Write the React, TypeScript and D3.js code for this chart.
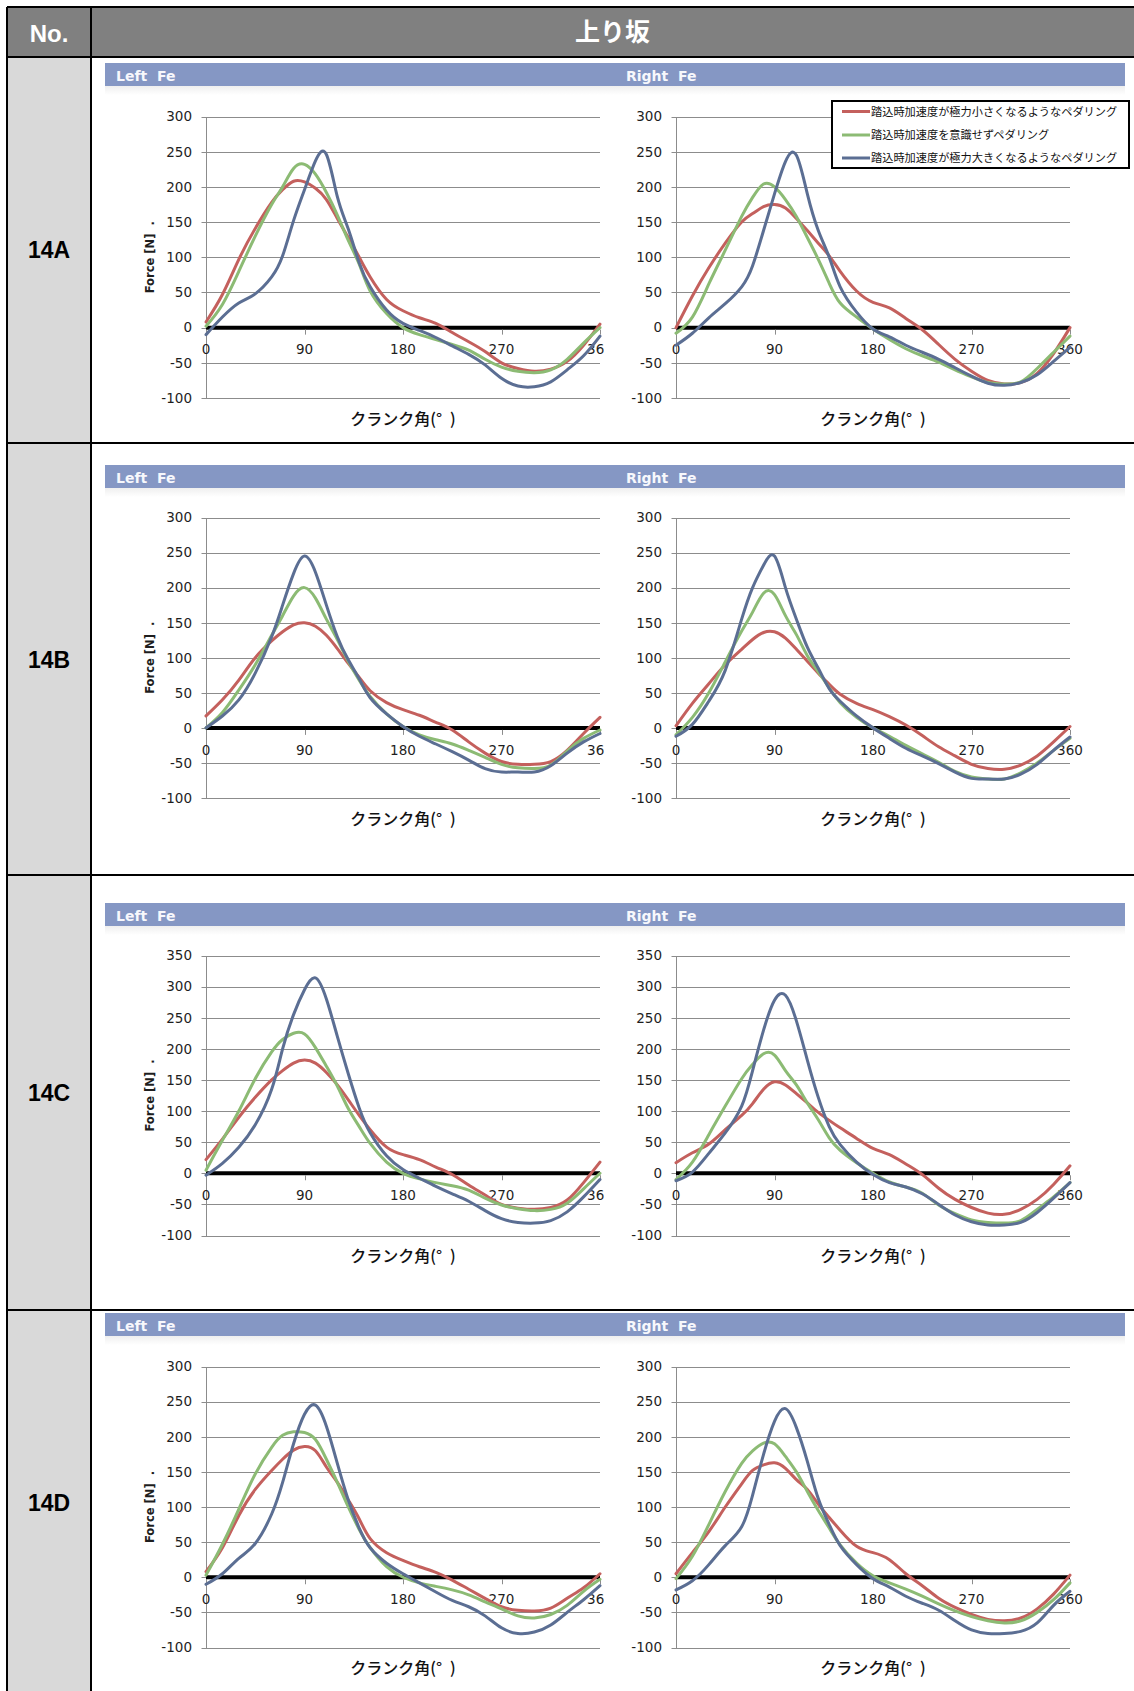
import React from "react";
import * as d3 from "d3";

// Crank angle sample points (degrees), shared by every series
const ANGLES = [0, 15, 30, 45, 60, 70, 80, 90, 100, 110, 120, 130, 140, 150, 165, 180, 195, 210, 225, 240, 255, 270, 285, 300, 315, 330, 345, 360];

const HEADER_NO = "No.";
const HEADER_TITLE = "上り坂";
const ROW_LABELS = ["14A", "14B", "14C", "14D"];
const SIDE_TITLES = ["Left\u00A0\u00A0Fe", "Right\u00A0\u00A0Fe"];
const LEGEND_LABELS = [
  "踏込時加速度が極力小さくなるようなペダリング",
  "踏込時加速度を意識せずペダリング",
  "踏込時加速度が極力大きくなるようなペダリング",
];
const SERIES_COLORS = ["#C4605D", "#8CBB74", "#5B6E93"];
const X_TICKS = [0, 90, 180, 270, 360];
const Y_TICKS_300 = [-100, -50, 0, 50, 100, 150, 200, 250, 300];
const Y_TICKS_350 = [-100, -50, 0, 50, 100, 150, 200, 250, 300, 350];
const Y_TITLE = "Force [N]\u00A0\u00A0.";
const X_TITLE = "クランク角(°\u2002)";

// 14A
const a14LeftLow = [8, 47, 97, 141, 178, 196, 208, 207, 198, 182, 155, 128, 100, 72, 40, 24, 14, 6, -7, -20, -34, -50, -58, -62, -59, -48, -25, 5];
const a14LeftNone = [2, 33, 80, 130, 175, 200, 226, 232, 218, 192, 160, 124, 90, 52, 20, 0, -10, -17, -24, -32, -45, -56, -62, -64, -60, -45, -22, 0];
const a14LeftHigh = [-10, 15, 35, 48, 72, 102, 152, 196, 237, 246, 186, 140, 92, 58, 25, 6, -4, -14, -26, -38, -53, -72, -83, -84, -77, -60, -40, -12];
const a14RightLow = [0, 45, 85, 120, 150, 162, 172, 175, 170, 155, 138, 120, 102, 80, 52, 36, 28, 13, -3, -24, -45, -62, -75, -80, -78, -65, -37, 0];
const a14RightNone = [-8, 15, 62, 110, 158, 185, 204, 200, 182, 158, 128, 97, 63, 35, 15, -2, -17, -30, -40, -49, -60, -70, -78, -80, -77, -58, -35, -12];
const a14RightHigh = [-25, -8, 14, 34, 58, 88, 138, 190, 236, 245, 190, 138, 100, 58, 22, -2, -13, -25, -35, -45, -57, -69, -79, -82, -78, -67, -48, -28];

// 14B
const b14LeftLow = [17, 40, 68, 100, 124, 137, 147, 150, 145, 132, 113, 92, 72, 53, 36, 26, 18, 8, -3, -20, -36, -48, -52, -52, -48, -32, -8, 15];
const b14LeftNone = [0, 22, 54, 90, 132, 160, 188, 200, 185, 155, 126, 95, 68, 45, 20, 2, -10, -17, -23, -32, -42, -52, -57, -58, -53, -33, -15, -3];
const b14LeftHigh = [0, 17, 40, 78, 130, 175, 220, 245, 222, 175, 130, 97, 70, 43, 20, 2, -12, -23, -34, -46, -58, -63, -63, -63, -54, -36, -20, -8];
const b14RightLow = [3, 35, 63, 90, 112, 126, 136, 137, 128, 112, 95, 78, 62, 48, 35, 26, 16, 4, -11, -27, -40, -52, -58, -59, -53, -40, -20, 2];
const b14RightNone = [-10, 15, 50, 94, 138, 165, 192, 190, 160, 133, 103, 80, 57, 36, 15, 0, -12, -25, -37, -49, -62, -70, -73, -73, -64, -50, -32, -15];
const b14RightHigh = [-12, 5, 38, 82, 155, 200, 232, 245, 200, 155, 115, 85, 56, 38, 17, 0, -15, -29, -40, -51, -63, -72, -73, -73, -66, -52, -32, -13];

// 14C
const c14LeftLow = [22, 55, 90, 122, 150, 165, 177, 182, 177, 162, 142, 118, 93, 70, 42, 30, 22, 10, -2, -19, -35, -50, -56, -58, -55, -43, -15, 18];
const c14LeftNone = [5, 53, 100, 152, 195, 215, 225, 224, 202, 172, 140, 104, 75, 48, 18, 0, -9, -15, -20, -27, -40, -51, -57, -60, -58, -48, -25, 0];
const c14LeftHigh = [-3, 16, 42, 78, 135, 200, 255, 295, 314, 280, 220, 160, 105, 65, 28, 6, -8, -21, -33, -45, -60, -73, -79, -80, -76, -62, -38, -10];
const c14RightLow = [17, 33, 47, 70, 93, 112, 135, 147, 142, 128, 113, 98, 85, 73, 56, 40, 30, 15, -2, -24, -42, -55, -64, -66, -58, -42, -18, 12];
const c14RightNone = [-10, 18, 62, 108, 152, 175, 192, 190, 165, 142, 113, 86, 57, 37, 17, 0, -14, -22, -32, -51, -65, -75, -79, -80, -76, -58, -38, -15];
const c14RightHigh = [-12, 2, 32, 65, 108, 165, 230, 278, 286, 245, 182, 122, 75, 46, 18, -2, -15, -22, -33, -50, -67, -78, -83, -83, -79, -63, -40, -15];

// 14D
const d14LeftLow = [8, 42, 88, 125, 152, 168, 181, 186, 180, 157, 135, 110, 83, 55, 35, 24, 15, 7, -4, -17, -30, -42, -47, -48, -44, -30, -15, 5];
const d14LeftNone = [3, 47, 97, 147, 185, 202, 207, 206, 196, 168, 135, 100, 68, 42, 15, 0, -8, -13, -18, -25, -35, -45, -55, -58, -53, -40, -20, -3];
const d14LeftHigh = [-10, 5, 27, 48, 90, 135, 190, 232, 245, 215, 162, 110, 70, 42, 20, 5, -8, -21, -33, -42, -55, -72, -80, -78, -68, -50, -32, -12];
const d14RightLow = [5, 35, 65, 100, 133, 152, 160, 163, 155, 139, 125, 104, 85, 67, 44, 35, 25, 5, -12, -30, -43, -53, -60, -62, -58, -45, -24, 3];
const d14RightNone = [-2, 30, 75, 122, 162, 180, 191, 190, 172, 150, 122, 95, 70, 46, 20, 2, -8, -17, -27, -38, -48, -56, -62, -65, -62, -50, -32, -8];
const d14RightHigh = [-18, -5, 18, 45, 72, 117, 175, 222, 240, 213, 165, 112, 75, 45, 18, -2, -14, -27, -37, -47, -62, -75, -80, -80, -77, -65, -40, -20];

const ROWS = [
  { label: ROW_LABELS[0], yTicks: Y_TICKS_300, left: [a14LeftLow, a14LeftNone, a14LeftHigh], right: [a14RightLow, a14RightNone, a14RightHigh], legend: true },
  { label: ROW_LABELS[1], yTicks: Y_TICKS_300, left: [b14LeftLow, b14LeftNone, b14LeftHigh], right: [b14RightLow, b14RightNone, b14RightHigh], legend: false },
  { label: ROW_LABELS[2], yTicks: Y_TICKS_350, left: [c14LeftLow, c14LeftNone, c14LeftHigh], right: [c14RightLow, c14RightNone, c14RightHigh], legend: false },
  { label: ROW_LABELS[3], yTicks: Y_TICKS_300, left: [d14LeftLow, d14LeftNone, d14LeftHigh], right: [d14RightLow, d14RightNone, d14RightHigh], legend: false },
];

// Page geometry
const W = 1134;
const H = 1691;
const TABLE_X = 7;
const TABLE_Y = 7;
const HEADER_BOTTOM = 57;
const COL_X = 91;
const BAR_X0 = 105;
const BAR_X1 = 1125;
const BAR_H = 23;

const ROW_LAYOUT = [
  { top: 57, bottom: 443, labelY: 250, barY: 63, plotTop: 116.5, plotBottom: 398 },
  { top: 443, bottom: 875, labelY: 660, barY: 465, plotTop: 517.5, plotBottom: 798 },
  { top: 875, bottom: 1310, labelY: 1093, barY: 903, plotTop: 955.5, plotBottom: 1235.5 },
  { top: 1310, bottom: H, labelY: 1503, barY: 1313, plotTop: 1366.5, plotBottom: 1647.5 },
];

const PANELS = [
  { x0: 206, x1: 600, clipRight: 604, titleX: 116, yTitle: true },
  { x0: 676, x1: 1070, clipRight: W, titleX: 626, yTitle: false },
];

const TICK_FONT = "'DejaVu Sans', Verdana, sans-serif";
const CJK_FONT = "'Noto Sans CJK JP', 'Noto Sans CJK SC', sans-serif";

type Row = (typeof ROWS)[number];
type Layout = (typeof ROW_LAYOUT)[number];
type Panel = (typeof PANELS)[number];

function Chart({ row, layout, panel, series, clipId }: { row: Row; layout: Layout; panel: Panel; series: number[][]; clipId: string }) {
  const yMax = row.yTicks[row.yTicks.length - 1];
  const x = d3.scaleLinear().domain([0, 360]).range([panel.x0, panel.x1]);
  const y = d3.scaleLinear().domain([-100, yMax]).range([layout.plotBottom, layout.plotTop]);
  const line = d3
    .line<number>()
    .x((_, i) => x(ANGLES[i]))
    .y((d) => y(d))
    .curve(d3.curveNatural);
  const y0 = y(0);
  const gx0 = Math.round(x(0)) + 0.5;
  return (
    <g clipPath={`url(#${clipId})`}>
      {row.yTicks.map((t) => {
        const yy = Math.round(y(t)) + 0.5;
        return <line key={`g${t}`} x1={gx0 - 5} x2={x(360)} y1={yy} y2={yy} stroke="#8c8c8c" strokeWidth={1} />;
      })}
      <line x1={gx0} x2={gx0} y1={Math.round(y(yMax)) + 0.5} y2={Math.round(y(-100)) + 0.5} stroke="#8c8c8c" strokeWidth={1} />
      {row.yTicks.map((t) => (
        <text key={`yl${t}`} x={x(0) - 14} y={y(t)} dy="0.36em" textAnchor="end" fontFamily={TICK_FONT} fontSize={13.5} fill="#1e1e1e">
          {t}
        </text>
      ))}
      <line x1={x(0)} x2={x(360)} y1={y0} y2={y0} stroke="#000" strokeWidth={4} />
      {X_TICKS.map((t) => (
        <line key={`xt${t}`} x1={Math.round(x(t)) + 0.5} x2={Math.round(x(t)) + 0.5} y1={y0 + 2} y2={y0 + 7} stroke="#8c8c8c" strokeWidth={1} />
      ))}
      {X_TICKS.map((t) => (
        <text key={`xl${t}`} x={x(t)} y={y0 + 22} dy="0.36em" textAnchor="middle" fontFamily={TICK_FONT} fontSize={13.5} fill="#1e1e1e">
          {t}
        </text>
      ))}
      {series.map((vals, i) => (
        <path key={`s${i}`} d={line(vals) || ""} fill="none" stroke={SERIES_COLORS[i]} strokeWidth={3} strokeLinejoin="round" strokeLinecap="round" />
      ))}
      <text
        x={(x(0) + x(360)) / 2}
        y={layout.plotBottom + 21}
        dy="0.36em"
        textAnchor="middle"
        fontFamily={CJK_FONT}
        fontWeight={500}
        fontSize={16}
        fill="#111"
        style={{ whiteSpace: "pre" }}
      >
        {X_TITLE}
      </text>
      {panel.yTitle && (
        <text
          transform={`translate(150, ${(layout.plotTop + layout.plotBottom) / 2}) rotate(-90)`}
          dy="0.36em"
          textAnchor="middle"
          fontFamily={TICK_FONT}
          fontWeight="bold"
          fontSize={11.5}
          fill="#1e1e1e"
        >
          {Y_TITLE}
        </text>
      )}
    </g>
  );
}

function Legend() {
  const x0 = 832;
  const y0 = 101;
  const rowYs = [111.5, 135, 158];
  return (
    <g>
      <rect x={x0} y={y0} width={297} height={67} fill="#fff" stroke="#000" strokeWidth={2} />
      {LEGEND_LABELS.map((lab, i) => (
        <g key={lab}>
          <line x1={842} x2={870} y1={rowYs[i]} y2={rowYs[i]} stroke={SERIES_COLORS[i]} strokeWidth={3} />
          <text x={871} y={rowYs[i]} dy="0.36em" fontFamily={CJK_FONT} fontSize={11.2} fill="#111">
            {lab}
          </text>
        </g>
      ))}
    </g>
  );
}

export default function App() {
  return (
    <svg width={W} height={H} viewBox={`0 0 ${W} ${H}`} style={{ position: "absolute", left: 0, top: 0, display: "block", background: "#fff" }}>
      <defs>
        <linearGradient id="barShade" x1="0" y1="0" x2="0" y2="1">
          <stop offset="0" stopColor="#e4e4e4" />
          <stop offset="1" stopColor="#ffffff" />
        </linearGradient>
        {ROW_LAYOUT.map((l, r) =>
          PANELS.map((p, k) => (
            <clipPath key={`c${r}${k}`} id={`clip-${r}-${k}`}>
              <rect x={k === 0 ? COL_X + 2 : p.x0 - 80} y={l.top + 2} width={p.clipRight - (k === 0 ? COL_X + 2 : p.x0 - 80)} height={l.bottom - l.top - 3} />
            </clipPath>
          ))
        )}
      </defs>

      {/* header band and label column */}
      <rect x={TABLE_X} y={TABLE_Y} width={W - TABLE_X} height={HEADER_BOTTOM - TABLE_Y} fill="#808080" />
      <rect x={TABLE_X} y={HEADER_BOTTOM} width={COL_X - TABLE_X} height={H - HEADER_BOTTOM} fill="#d9d9d9" />
      <text x={(TABLE_X + COL_X) / 2} y={33} dy="0.36em" textAnchor="middle" fontFamily="'Liberation Sans', Arial, sans-serif" fontWeight="bold" fontSize={24} fill="#fff">
        {HEADER_NO}
      </text>
      <text x={(COL_X + W) / 2} y={32} dy="0.36em" textAnchor="middle" fontFamily={CJK_FONT} fontWeight="bold" fontSize={25} fill="#fff">
        {HEADER_TITLE}
      </text>

      {ROWS.map((row, r) => {
        const layout = ROW_LAYOUT[r];
        return (
          <g key={row.label}>
            <text x={(TABLE_X + COL_X) / 2} y={layout.labelY} dy="0.36em" textAnchor="middle" fontFamily="'Liberation Sans', Arial, sans-serif" fontWeight="bold" fontSize={23} fill="#000">
              {row.label}
            </text>
            <rect x={BAR_X0} y={layout.barY} width={BAR_X1 - BAR_X0} height={BAR_H} fill="#8597C4" />
            <rect x={BAR_X0} y={layout.barY + BAR_H} width={BAR_X1 - BAR_X0} height={9} fill="url(#barShade)" opacity={0.6} />
            {PANELS.map((p, k) => (
              <text key={`t${k}`} x={p.titleX} y={layout.barY + 18} fontFamily={TICK_FONT} fontWeight="bold" fontSize={14} fill="#f7f8fc">
                {SIDE_TITLES[k]}
              </text>
            ))}
            <Chart row={row} layout={layout} panel={PANELS[0]} series={row.left} clipId={`clip-${r}-0`} />
            <Chart row={row} layout={layout} panel={PANELS[1]} series={row.right} clipId={`clip-${r}-1`} />
            {row.legend && <Legend />}
          </g>
        );
      })}

      {/* table rules */}
      <g stroke="#000" strokeWidth={2}>
        <line x1={TABLE_X} x2={W} y1={TABLE_Y} y2={TABLE_Y} />
        <line x1={TABLE_X} x2={TABLE_X} y1={TABLE_Y} y2={H} />
        <line x1={COL_X} x2={COL_X} y1={TABLE_Y} y2={H} />
        {[HEADER_BOTTOM, ...ROW_LAYOUT.slice(1).map((l) => l.top)].map((yy) => (
          <line key={`h${yy}`} x1={TABLE_X} x2={W} y1={yy} y2={yy} />
        ))}
      </g>
    </svg>
  );
}
